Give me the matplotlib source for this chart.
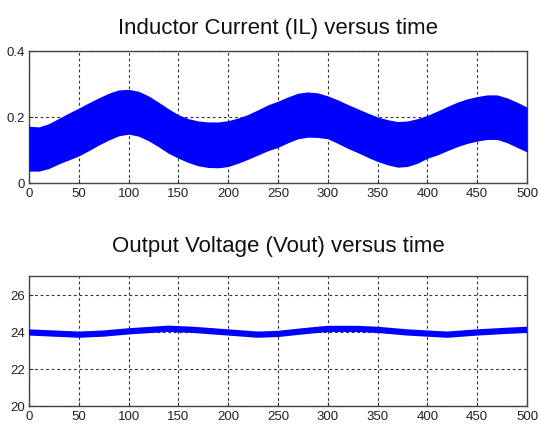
import matplotlib
matplotlib.use("Agg")
import matplotlib.pyplot as plt

# ---- data ----
t_env = [0, 10, 20, 30, 40, 50, 60, 70, 80, 90, 100, 110, 120, 130, 140, 150, 160, 170, 180, 190,
         200, 210, 220, 230, 240, 250, 260, 270, 280, 290, 300, 310, 320, 330, 340, 350, 360, 370,
         380, 390, 400, 410, 420, 430, 440, 450, 460, 470, 480, 490, 500]
il_upper = [0.172, 0.170, 0.180, 0.196, 0.212, 0.227, 0.243, 0.258, 0.272, 0.282, 0.284, 0.278, 0.264,
            0.245, 0.225, 0.207, 0.195, 0.188, 0.185, 0.185, 0.189, 0.197, 0.208, 0.222, 0.237, 0.248,
            0.261, 0.272, 0.276, 0.273, 0.264, 0.252, 0.238, 0.225, 0.212, 0.200, 0.192, 0.186, 0.188,
            0.195, 0.205, 0.218, 0.232, 0.245, 0.255, 0.262, 0.267, 0.267, 0.258, 0.245, 0.230]
il_lower = [0.036, 0.036, 0.044, 0.058, 0.070, 0.082, 0.098, 0.115, 0.130, 0.143, 0.148, 0.142, 0.128,
            0.110, 0.090, 0.075, 0.062, 0.052, 0.047, 0.046, 0.050, 0.060, 0.072, 0.085, 0.098, 0.108,
            0.122, 0.134, 0.139, 0.138, 0.134, 0.120, 0.105, 0.092, 0.078, 0.065, 0.055, 0.048, 0.050,
            0.060, 0.075, 0.085, 0.098, 0.110, 0.120, 0.127, 0.132, 0.132, 0.122, 0.108, 0.094]

t_v = [0, 25, 50, 75, 100, 140, 165, 200, 230, 250, 280, 300, 330, 350, 380, 400, 420, 450, 480, 500]
vout = [23.96, 23.90, 23.84, 23.90, 24.02, 24.16, 24.10, 23.96, 23.84, 23.88, 24.05, 24.15, 24.15,
        24.10, 23.96, 23.90, 23.84, 23.96, 24.05, 24.10]

xticks = [0, 50, 100, 150, 200, 250, 300, 350, 400, 450, 500]
il_yticks = [0, 0.2, 0.4]
il_yticklabels = ["0", "0.2", "0.4"]
v_yticks = [20, 22, 24, 26]
v_yticklabels = ["20", "22", "24", "26"]

plt.rcParams["font.family"] = ["Liberation Sans", "DejaVu Sans"]

fig = plt.figure(figsize=(5.4, 4.35), dpi=100)
ax1 = fig.add_axes([29/540, 1-184/435, 498/540, 132/435])
ax2 = fig.add_axes([29/540, 1-407/435, 498/540, 130/435])

blue = "#0000ff"
ax1.fill_between(t_env, il_lower, il_upper, color=blue, linewidth=0, zorder=3)
ax1.set_xlim(0, 500)
ax1.set_ylim(0, 0.4)
ax1.set_yticks(il_yticks)
ax1.set_yticklabels(il_yticklabels)

ax2.plot(t_v, vout, color=blue, linewidth=4.5, zorder=3, solid_capstyle="butt")
ax2.set_xlim(0, 500)
ax2.set_ylim(20, 27)
ax2.set_yticks(v_yticks)
ax2.set_yticklabels(v_yticklabels)

for ax in (ax1, ax2):
    ax.set_xticks(xticks)
    ax.grid(True, color="#333333", linestyle=(0, (2.5, 2.5)), linewidth=0.8, zorder=0)
    ax.set_axisbelow(True)
    ax.tick_params(direction="in", length=3, labelsize=9.5, colors="#333333", labelcolor="#222222", pad=3)
    for s in ax.spines.values():
        s.set_color("#444444")
        s.set_linewidth(1.0)

ax1.set_title("Inductor Current (IL) versus time", fontsize=16, pad=13, color="#111111")
ax2.set_title("Output Voltage (Vout) versus time", fontsize=16, pad=18, color="#111111")

fig.savefig("out.png", dpi=100)
